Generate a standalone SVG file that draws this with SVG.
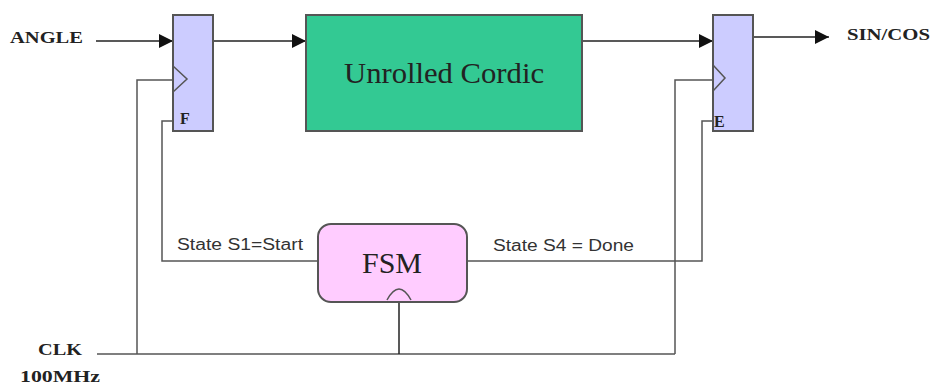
<svg xmlns="http://www.w3.org/2000/svg" width="933" height="385" viewBox="0 0 933 385">
  <style>
    .reg { fill: #CCCCFF; stroke: #555; stroke-width: 2; }
    .clkmark { fill: none; stroke: #555; stroke-width: 1.5; }
    .wire { fill: none; stroke: #555; stroke-width: 1.5; }
    .sig { fill: none; stroke: #222; stroke-width: 1.5; }
    .io { font-family: "Liberation Serif", serif; font-weight: bold; font-size: 17px; fill: #222; }
    .pin { font-family: "Liberation Serif", serif; font-weight: bold; font-size: 16px; fill: #222; }
    .state { font-family: "Liberation Sans", sans-serif; font-size: 16px; fill: #333; }
    .big { font-family: "Liberation Serif", serif; font-size: 30px; fill: #222; text-anchor: middle; }
  </style>
  <defs>
    <marker id="arrow" viewBox="0 0 14 14" refX="14" refY="7" markerWidth="14" markerHeight="14" markerUnits="userSpaceOnUse" orient="auto">
      <path d="M0,0 L14,7 L0,14 Z" fill="#111"/>
    </marker>
  </defs>
  <rect width="933" height="385" fill="#fff"/>

  <!-- connectors -->
  <g id="connectors">
    <line class="sig" x1="96" y1="41" x2="173" y2="41" marker-end="url(#arrow)"/>
    <line class="sig" x1="213" y1="41" x2="306" y2="41" marker-end="url(#arrow)"/>
    <line class="sig" x1="582" y1="41" x2="713" y2="41" marker-end="url(#arrow)"/>
    <line class="sig" x1="753" y1="37" x2="829" y2="37" marker-end="url(#arrow)"/>
    <!-- clock tree -->
    <polyline class="wire" points="97,354 675,354"/>
    <polyline class="wire" points="173,80 137,80 137,354"/>
    <polyline class="wire" points="713,80 675,80 675,354"/>
    <polyline class="sig" points="399,302 399,354"/>
    <!-- enables -->
    <polyline class="wire" points="173,121 162,121 162,261 318,261"/>
    <polyline class="wire" points="713,121 702,121 702,261 467,261"/>
  </g>

  <g id="reg-in">
    <rect class="reg" x="173" y="15" width="40" height="116"/>
    <polyline class="clkmark" points="173,66 187,79 173,92"/>
    <text class="pin" x="180" y="124">F</text>
  </g>

  <g id="cordic">
    <rect x="306" y="15" width="276" height="116" fill="#33C993" stroke="#555" stroke-width="2"/>
    <text class="big" x="444" y="83" textLength="200" lengthAdjust="spacingAndGlyphs">Unrolled Cordic</text>
  </g>

  <g id="reg-out">
    <rect class="reg" x="713" y="15" width="40" height="116"/>
    <polyline class="clkmark" points="713,65 725,78 713,91"/>
    <text class="pin" x="714" y="127">E</text>
  </g>

  <g id="fsm">
    <rect x="318" y="224" width="149" height="78" rx="13" ry="13" fill="#FFCCFF" stroke="#555" stroke-width="2"/>
    <text class="big" x="392" y="273">FSM</text>
    <path class="clkmark" d="M387,300 Q399,278 411,300"/>
  </g>

  <g id="labels">
    <text class="io" x="10" y="43" textLength="73" lengthAdjust="spacingAndGlyphs">ANGLE</text>
    <text class="io" x="847" y="40" textLength="83" lengthAdjust="spacingAndGlyphs">SIN/COS</text>
    <text class="io" x="38" y="355" textLength="44" lengthAdjust="spacingAndGlyphs">CLK</text>
    <text class="io" x="20" y="382" textLength="80" lengthAdjust="spacingAndGlyphs">100MHz</text>
    <text class="state" x="177" y="250" textLength="126" lengthAdjust="spacingAndGlyphs">State S1=Start</text>
    <text class="state" x="493" y="251" textLength="141" lengthAdjust="spacingAndGlyphs">State S4 = Done</text>
  </g>
</svg>
